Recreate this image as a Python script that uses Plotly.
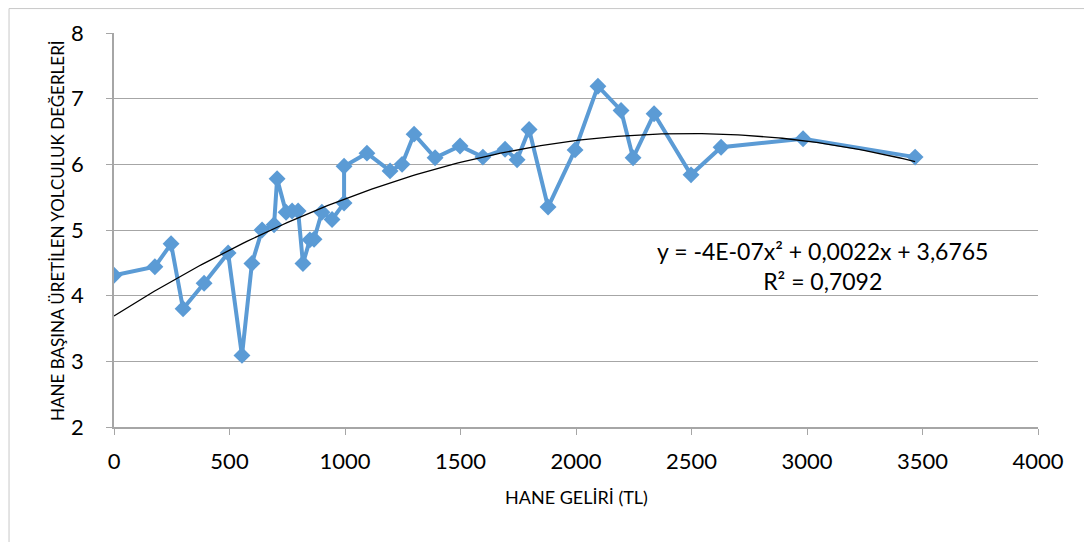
import numpy as np
import plotly.graph_objects as go

# Household income (TL)
income = [0, 177, 247, 299, 390, 494, 554, 597, 641, 693, 706, 745, 771, 797, 818,
          848, 866, 900, 944, 996, 996, 1095, 1195, 1247, 1299, 1390, 1498, 1597,
          1693, 1745, 1797, 1879, 1996, 2095, 2195, 2247, 2338, 2498, 2628, 2983, 3468]
# Trips generated per household
trips = [4.31, 4.44, 4.79, 3.80, 4.19, 4.65, 3.09, 4.49, 5.00, 5.08, 5.78, 5.27, 5.29,
         5.29, 4.49, 4.85, 4.86, 5.27, 5.16, 5.41, 5.97, 6.17, 5.90, 6.00, 6.46, 6.10,
         6.28, 6.11, 6.23, 6.07, 6.53, 5.35, 6.22, 7.19, 6.82, 6.10, 6.77, 5.84, 6.26,
         6.39, 6.11]

x_ticks = [0, 500, 1000, 1500, 2000, 2500, 3000, 3500, 4000]
y_ticks = [2, 3, 4, 5, 6, 7, 8]

# polynomial (order 2) trendline fitted to the data
coef = np.polyfit(income, trips, 2)
tx = np.linspace(min(income), max(income), 200)
ty = np.polyval(coef, tx)

font = "Lato, 'Open Sans', sans-serif"

fig = go.Figure()
fig.add_trace(go.Scatter(x=income, y=trips, mode="lines+markers",
                         line=dict(color="#5B9BD5", width=4),
                         marker=dict(symbol="diamond", size=13, color="#5B9BD5"),
                         showlegend=False))
fig.add_trace(go.Scatter(x=tx, y=ty, mode="lines",
                         line=dict(color="black", width=1.3),
                         showlegend=False))

fig.add_annotation(x=3069, y=4.45, xref="x", yref="y",
                   text="y = -4E-07x² + 0,0022x + 3,6765<br>R² = 0,7092",
                   showarrow=False, align="center",
                   font=dict(family=font, size=23, color="black"))

fig.add_annotation(x=0.501, y=-0.178, xref="paper", yref="paper",
                   text="HANE GELİRİ (TL)", showarrow=False,
                   xanchor="center", yanchor="middle",
                   font=dict(family=font, size=18, color="black"))
fig.add_annotation(x=-0.0617, y=0.5, xref="paper", yref="paper",
                   text="HANE BAŞINA ÜRETİLEN YOLCULUK DEĞERLERİ", showarrow=False,
                   textangle=-90, xanchor="center", yanchor="middle",
                   font=dict(family=font, size=17, color="black"))

fig.add_shape(type="rect", xref="paper", yref="paper",
              x0=-0.1136, x1=1.2, y0=-0.5, y1=1.062,
              line=dict(color="#c8c8c8", width=1), layer="below")

fig.update_layout(
    width=1084, height=534,
    margin=dict(l=106, r=54, t=25, b=115),
    paper_bgcolor="white", plot_bgcolor="white",
    font=dict(family=font, color="black"),
    xaxis=dict(range=[0, 4000], tickvals=x_ticks, showgrid=False,
               showline=True, linecolor="#a6a6a6", linewidth=1.5,
               ticks="outside", ticklen=6, tickcolor="#a6a6a6",
               ticklabelstandoff=8,
               tickfont=dict(size=22, family=font),
               zeroline=False),
    yaxis=dict(range=[2, 8], tickvals=y_ticks, showgrid=True,
               gridcolor="#a6a6a6", gridwidth=1.3,
               showline=True, linecolor="#a6a6a6", linewidth=1.5,
               ticks="outside", ticklen=6, tickcolor="#a6a6a6",
               ticklabelstandoff=18,
               tickfont=dict(size=22, family=font),
               zeroline=False),
)

fig.write_html("out.html")
